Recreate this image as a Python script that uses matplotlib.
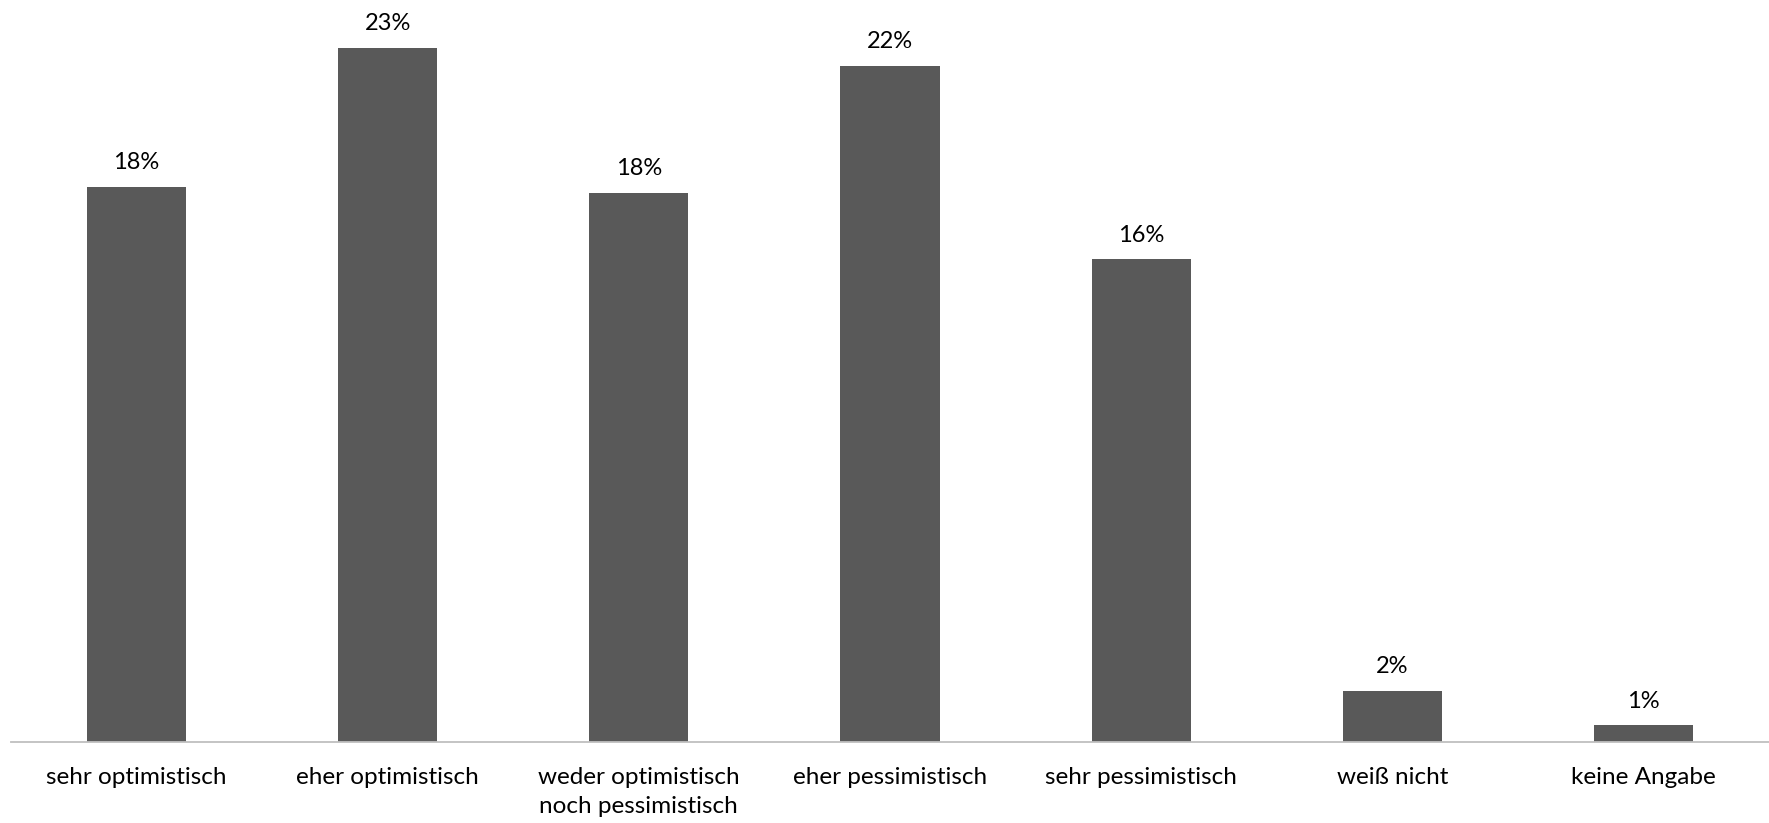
import matplotlib
matplotlib.use("Agg")
import matplotlib.pyplot as plt

categories = ["sehr optimistisch", "eher optimistisch", "weder optimistisch\nnoch pessimistisch",
              "eher pessimistisch", "sehr pessimistisch", "weiß nicht", "keine Angabe"]
shares = [18.4, 23.0, 18.2, 22.4, 16.0, 1.7, 0.55]

plt.rcParams['font.family'] = ['Lato', 'DejaVu Sans']

fig = plt.figure(figsize=(17.69, 8.23), dpi=100)
ax = fig.add_axes([0.0062, 0.0984, 0.9938, 0.9016])

x = range(len(categories))
bars = ax.bar(x, shares, width=0.395, color='#595959', zorder=2)

# percentage above each bar
for b, v in zip(bars, shares):
    ax.annotate(f"{v:.0f}%", (b.get_x() + b.get_width() / 2, v),
                xytext=(0, 10), textcoords='offset points',
                ha='center', va='bottom', fontsize=17, color='#000000')

ax.set_xlim(-0.5, len(categories) - 0.5)
ax.set_ylim(0, 24.6)
ax.set_xticks(list(x))
ax.set_xticklabels(categories, fontsize=17.5, linespacing=1.45, va='top')
ax.tick_params(axis='x', length=0, pad=18)
ax.set_yticks([])
for s in ['top', 'right', 'left']:
    ax.spines[s].set_visible(False)
ax.spines['bottom'].set_color('#bfbfbf')
ax.spines['bottom'].set_linewidth(1.3)

fig.savefig('out.png', dpi=100)
